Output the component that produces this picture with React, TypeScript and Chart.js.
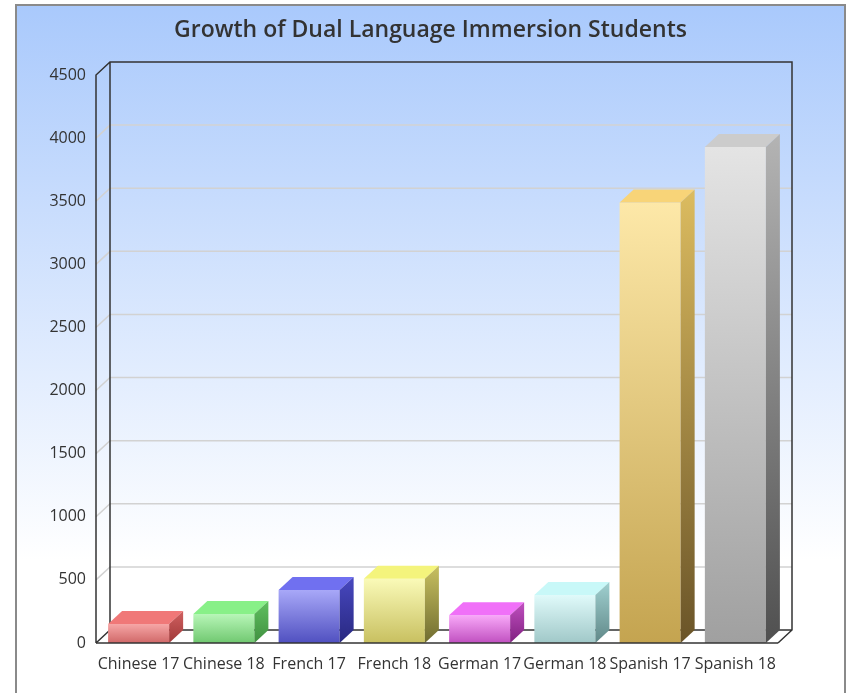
import { useEffect, useRef } from "react";
import { Chart, registerables } from "chart.js";

Chart.register(...registerables);

const TITLE = "Growth of Dual Language Immersion Students";
const categories = [
  "Chinese 17",
  "Chinese 18",
  "French 17",
  "French 18",
  "German 17",
  "German 18",
  "Spanish 17",
  "Spanish 18",
];
const students = [150, 230, 420, 510, 220, 380, 3490, 3930];
const yMin = 0;
const yMax = 4500;
const yStep = 500;

// palette per bar
const frontTop = ["#f6a6a6", "#b8f6b8", "#a8a8f8", "#fafab8", "#f8a8f8", "#e0fafa", "#fde8a8", "#e4e4e4"];
const frontBottom = ["#d06868", "#70c870", "#5050c0", "#c8c060", "#c050c0", "#a0c8c8", "#c4a450", "#a0a0a0"];
const topFace = ["#f07878", "#88f088", "#7070f0", "#f4f47c", "#f070f8", "#c8f8f8", "#f8d478", "#cccccc"];
const sideTop = ["#d06060", "#60c060", "#4848c0", "#c8c060", "#c050c0", "#a0d0d0", "#dcbc60", "#b4b4b4"];
const sideBottom = ["#a03838", "#409040", "#282880", "#706c30", "#802080", "#608888", "#6a5428", "#505050"];

const DX = 14;
const DY = 13;
const FONT = "'Open Sans', 'DejaVu Sans', sans-serif";

const threeD = {
  id: "threeD",
  beforeDraw(chart: any) {
    const ctx = chart.ctx;
    ctx.save();
    ctx.fillStyle = "#ffffff";
    ctx.fillRect(0, 0, chart.width, chart.height);
    const g = ctx.createLinearGradient(0, 4, 0, 560);
    g.addColorStop(0, "#a9c9fc");
    g.addColorStop(1, "#ffffff");
    ctx.fillStyle = g;
    ctx.fillRect(15, 4, 831, chart.height - 4);
    ctx.strokeStyle = "#8a8a8a";
    ctx.lineWidth = 2;
    ctx.beginPath();
    ctx.moveTo(16, chart.height + 2);
    ctx.lineTo(16, 5);
    ctx.lineTo(845, 5);
    ctx.lineTo(845, chart.height + 2);
    ctx.stroke();
    ctx.restore();
  },
  beforeDatasetsDraw(chart: any) {
    const ctx = chart.ctx;
    const { left, right, top, bottom } = chart.chartArea;
    const y = chart.scales.y;
    ctx.save();
    ctx.strokeStyle = "#d2d2d2";
    ctx.lineWidth = 1.5;
    for (let v = yMin + yStep; v < yMax; v += yStep) {
      const yf = y.getPixelForValue(v);
      const yb = yf - DY;
      ctx.beginPath();
      ctx.moveTo(left, yf);
      ctx.lineTo(left + DX, yb);
      ctx.lineTo(right + DX, yb);
      ctx.stroke();
    }
    ctx.strokeStyle = "#333333";
    ctx.lineWidth = 1.5;
    ctx.beginPath();
    ctx.moveTo(left, bottom);
    ctx.lineTo(left, top);
    ctx.lineTo(left + DX, top - DY);
    ctx.lineTo(right + DX, top - DY);
    ctx.lineTo(right + DX, bottom - DY);
    ctx.lineTo(right, bottom);
    ctx.moveTo(left + DX, top - DY);
    ctx.lineTo(left + DX, bottom - DY);
    ctx.lineTo(right + DX, bottom - DY);
    ctx.moveTo(left, bottom);
    ctx.lineTo(left + DX, bottom - DY);
    ctx.stroke();
    ctx.restore();
  },
  afterDatasetsDraw(chart: any) {
    const ctx = chart.ctx;
    const { left, right, bottom } = chart.chartArea;
    const meta = chart.getDatasetMeta(0);
    ctx.save();
    meta.data.forEach((bar: any, i: number) => {
      const L = bar.x - bar.width / 2;
      const R = bar.x + bar.width / 2;
      const t = bar.y;
      const b = bar.base;
      ctx.fillStyle = topFace[i];
      ctx.beginPath();
      ctx.moveTo(L, t);
      ctx.lineTo(L + DX, t - DY);
      ctx.lineTo(R + DX, t - DY);
      ctx.lineTo(R, t);
      ctx.closePath();
      ctx.fill();
      const sg = ctx.createLinearGradient(0, t - DY, 0, b);
      sg.addColorStop(0, sideTop[i]);
      sg.addColorStop(1, sideBottom[i]);
      ctx.fillStyle = sg;
      ctx.beginPath();
      ctx.moveTo(R, t);
      ctx.lineTo(R + DX, t - DY);
      ctx.lineTo(R + DX, b - DY);
      ctx.lineTo(R, b);
      ctx.closePath();
      ctx.fill();
    });
    ctx.strokeStyle = "#333333";
    ctx.lineWidth = 1.5;
    ctx.beginPath();
    ctx.moveTo(left, bottom);
    ctx.lineTo(right, bottom);
    ctx.stroke();
    ctx.restore();
  },
};

export default function App() {
  const ref = useRef<HTMLCanvasElement | null>(null);
  useEffect(() => {
    if (!ref.current) return;
    const chart = new Chart(ref.current, {
      type: "bar",
      data: {
        labels: categories,
        datasets: [
          {
            label: "Students",
            data: students,
            borderWidth: 0,
            barPercentage: 0.716,
            categoryPercentage: 1,
            backgroundColor: (c: any) => {
              if (c.type !== "data") return frontBottom[0];
              const i = c.dataIndex;
              const ys = c.chart.scales.y;
              if (!ys) return frontBottom[i];
              const yt = ys.getPixelForValue(c.raw);
              const yb = ys.getPixelForValue(0);
              if (!isFinite(yt) || !isFinite(yb) || yt === yb) return frontBottom[i];
              const g = c.chart.ctx.createLinearGradient(0, yt, 0, yb);
              g.addColorStop(0, frontTop[i]);
              g.addColorStop(1, frontBottom[i]);
              return g;
            },
          },
        ],
      },
      options: {
        responsive: false,
        animation: false,
        devicePixelRatio: 1,
        layout: { padding: { left: 10, right: 0, top: 0, bottom: 0 } },
        plugins: {
          legend: { display: false },
          tooltip: { enabled: false },
          title: {
            display: true,
            text: TITLE,
            color: "#333333",
            font: { family: FONT, size: 23, weight: 600 },
            padding: { top: 17, bottom: 30.4 },
          },
        },
        scales: {
          x: {
            type: "category",
            offset: true,
            grid: { display: false, drawTicks: false },
            border: { display: false },
            ticks: {
              autoSkip: false,
              maxRotation: 0,
              minRotation: 0,
              color: "#333333",
              padding: 12,
              font: { family: FONT, size: 16 },
            },
            afterFit: (s: any) => {
              s.height = 50;
            },
          },
          y: {
            min: yMin,
            max: yMax,
            grid: { display: false, drawTicks: false },
            border: { display: false },
            ticks: {
              stepSize: yStep,
              color: "#333333",
              padding: 10,
              font: { family: FONT, size: 16 },
              callback: (v: any) => String(v),
            },
            afterFit: (s: any) => {
              s.width = 86;
            },
          },
          yRight: {
            position: "right",
            min: yMin,
            max: yMax,
            grid: { display: false, drawTicks: false },
            border: { display: false },
            ticks: { display: false },
            afterFit: (s: any) => {
              s.width = 73;
            },
          },
        },
      },
      plugins: [threeD],
    } as any);
    return () => chart.destroy();
  }, []);
  return (
    <div style={{ position: "fixed", left: 0, top: 0, width: 851, height: 693, background: "#fff" }}>
      <canvas ref={ref} width={851} height={693} style={{ display: "block", width: 851, height: 693 }} />
    </div>
  );
}
